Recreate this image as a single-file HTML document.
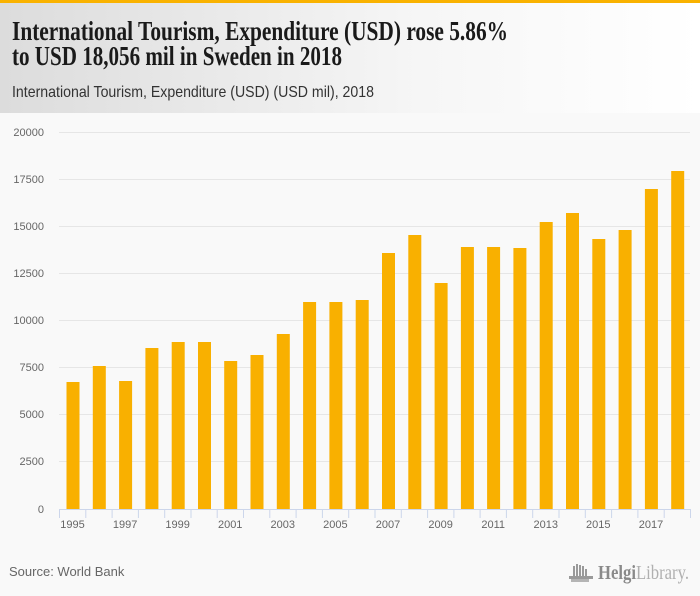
<!DOCTYPE html>
<html>
<head>
<meta charset="utf-8">
<style>
html,body{margin:0;padding:0;background:#f9f9f9;}
svg{display:block;}
</style>
</head>
<body>
<svg width="700" height="596" viewBox="0 0 700 596" xmlns="http://www.w3.org/2000/svg">
<defs>
<linearGradient id="hg" x1="0" y1="0" x2="1" y2="0">
<stop offset="0" stop-color="#dcdcdc"/>
<stop offset="0.6" stop-color="#f6f6f6"/>
<stop offset="1" stop-color="#ffffff"/>
</linearGradient>
</defs>
<rect x="0" y="0" width="700" height="596" fill="#f9f9f9"/>
<rect x="0" y="3" width="700" height="110" fill="url(#hg)"/>
<rect x="0" y="0" width="700" height="3" fill="#f9b200"/>

<text x="12" y="40" font-family="Liberation Serif, serif" font-weight="bold" font-size="27" fill="#1a1a1a" textLength="496" lengthAdjust="spacingAndGlyphs">International Tourism, Expenditure (USD) rose 5.86%</text>
<text x="12" y="65" font-family="Liberation Serif, serif" font-weight="bold" font-size="27" fill="#1a1a1a" textLength="330" lengthAdjust="spacingAndGlyphs">to USD 18,056 mil in Sweden in 2018</text>
<text x="12" y="97" font-family="Liberation Sans, sans-serif" font-size="16" fill="#333" textLength="362" lengthAdjust="spacingAndGlyphs">International Tourism, Expenditure (USD) (USD mil), 2018</text>

<g stroke="#e6e6e6" stroke-width="1">
<line x1="59" y1="132.5" x2="690" y2="132.5"/>
<line x1="59" y1="179.5" x2="690" y2="179.5"/>
<line x1="59" y1="226.5" x2="690" y2="226.5"/>
<line x1="59" y1="273.5" x2="690" y2="273.5"/>
<line x1="59" y1="320.5" x2="690" y2="320.5"/>
<line x1="59" y1="367.5" x2="690" y2="367.5"/>
<line x1="59" y1="414.5" x2="690" y2="414.5"/>
<line x1="59" y1="461.5" x2="690" y2="461.5"/>
</g>

<g font-family="Liberation Sans, sans-serif" font-size="11" fill="#666" text-anchor="end">
<text x="44" y="136">20000</text>
<text x="44" y="183">17500</text>
<text x="44" y="230">15000</text>
<text x="44" y="277">12500</text>
<text x="44" y="324">10000</text>
<text x="44" y="371">7500</text>
<text x="44" y="418">5000</text>
<text x="44" y="465">2500</text>
<text x="44" y="513">0</text>
</g>

<g fill="#f9b000">
<rect x="66.5" y="382" width="13" height="127"/>
<rect x="92.8" y="366" width="13" height="143"/>
<rect x="119.1" y="381" width="13" height="128"/>
<rect x="145.4" y="348" width="13" height="161"/>
<rect x="171.7" y="342" width="13" height="167"/>
<rect x="198.0" y="342" width="13" height="167"/>
<rect x="224.2" y="361" width="13" height="148"/>
<rect x="250.5" y="355" width="13" height="154"/>
<rect x="276.8" y="334" width="13" height="175"/>
<rect x="303.1" y="302" width="13" height="207"/>
<rect x="329.4" y="302" width="13" height="207"/>
<rect x="355.7" y="300" width="13" height="209"/>
<rect x="382.0" y="253" width="13" height="256"/>
<rect x="408.3" y="235" width="13" height="274"/>
<rect x="434.6" y="283" width="13" height="226"/>
<rect x="460.9" y="247" width="13" height="262"/>
<rect x="487.1" y="247" width="13" height="262"/>
<rect x="513.4" y="248" width="13" height="261"/>
<rect x="539.7" y="222" width="13" height="287"/>
<rect x="566.0" y="213" width="13" height="296"/>
<rect x="592.3" y="239" width="13" height="270"/>
<rect x="618.6" y="230" width="13" height="279"/>
<rect x="644.9" y="189" width="13" height="320"/>
<rect x="671.2" y="171" width="13" height="338"/>
</g>

<g stroke="#ccd6eb" stroke-width="1">
<line x1="59" y1="509.5" x2="691" y2="509.5"/>
<line x1="59.5" y1="509" x2="59.5" y2="518"/>
<line x1="85.8" y1="509" x2="85.8" y2="518"/>
<line x1="112.1" y1="509" x2="112.1" y2="518"/>
<line x1="138.4" y1="509" x2="138.4" y2="518"/>
<line x1="164.7" y1="509" x2="164.7" y2="518"/>
<line x1="191.0" y1="509" x2="191.0" y2="518"/>
<line x1="217.2" y1="509" x2="217.2" y2="518"/>
<line x1="243.5" y1="509" x2="243.5" y2="518"/>
<line x1="269.8" y1="509" x2="269.8" y2="518"/>
<line x1="296.1" y1="509" x2="296.1" y2="518"/>
<line x1="322.4" y1="509" x2="322.4" y2="518"/>
<line x1="348.7" y1="509" x2="348.7" y2="518"/>
<line x1="375.0" y1="509" x2="375.0" y2="518"/>
<line x1="401.3" y1="509" x2="401.3" y2="518"/>
<line x1="427.6" y1="509" x2="427.6" y2="518"/>
<line x1="453.9" y1="509" x2="453.9" y2="518"/>
<line x1="480.1" y1="509" x2="480.1" y2="518"/>
<line x1="506.4" y1="509" x2="506.4" y2="518"/>
<line x1="532.7" y1="509" x2="532.7" y2="518"/>
<line x1="559.0" y1="509" x2="559.0" y2="518"/>
<line x1="585.3" y1="509" x2="585.3" y2="518"/>
<line x1="611.6" y1="509" x2="611.6" y2="518"/>
<line x1="637.9" y1="509" x2="637.9" y2="518"/>
<line x1="664.2" y1="509" x2="664.2" y2="518"/>
<line x1="690.5" y1="509" x2="690.5" y2="518"/>
</g>

<g font-family="Liberation Sans, sans-serif" font-size="11" fill="#666" text-anchor="middle">
<text x="72.5" y="528">1995</text>
<text x="125.1" y="528">1997</text>
<text x="177.6" y="528">1999</text>
<text x="230.2" y="528">2001</text>
<text x="282.8" y="528">2003</text>
<text x="335.4" y="528">2005</text>
<text x="388.0" y="528">2007</text>
<text x="440.6" y="528">2009</text>
<text x="493.2" y="528">2011</text>
<text x="545.8" y="528">2013</text>
<text x="598.3" y="528">2015</text>
<text x="651.0" y="528">2017</text>
</g>

<text x="9" y="576" font-family="Liberation Sans, sans-serif" font-size="13" fill="#666">Source: World Bank</text>

<g fill="#9a9a9a">
<rect x="573" y="566" width="2" height="11"/>
<rect x="576" y="564" width="2" height="13"/>
<rect x="579" y="565" width="2" height="12"/>
<rect x="582" y="566" width="2" height="11"/>
<rect x="585" y="569" width="2" height="8"/>
<rect x="569" y="576" width="24" height="3"/>
<rect x="571" y="579" width="18" height="3" fill="#b5b5b5"/>
</g>
<text x="598" y="579" font-family="Liberation Serif, serif" font-size="20" fill="#8a8a8a" textLength="91" lengthAdjust="spacingAndGlyphs"><tspan font-weight="bold">Helgi</tspan><tspan fill="#b0b0b0">Library.</tspan></text>
</svg>
</body>
</html>
